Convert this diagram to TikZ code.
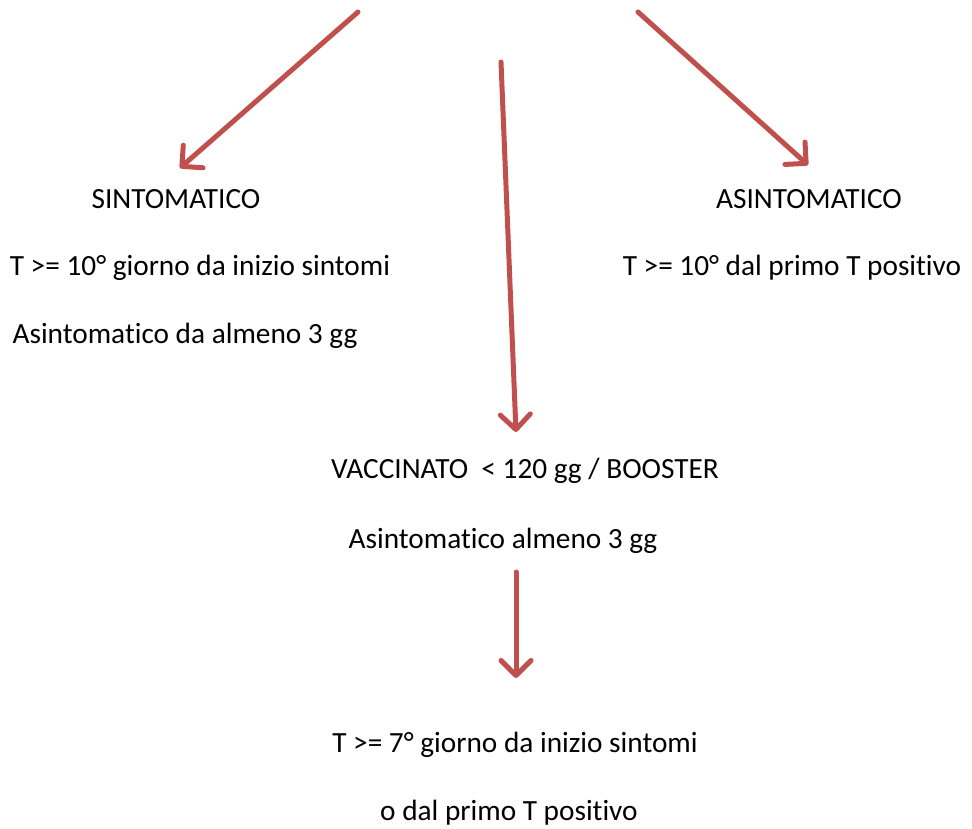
\documentclass[tikz,border=0pt]{standalone}
\usepackage{fontspec}
\setmainfont[Ligatures={NoCommon}]{Carlito}
\usetikzlibrary{arrows.meta}
\definecolor{arrred}{HTML}{C0504D}
\begin{document}
\begin{tikzpicture}[x=1pt,y=-1pt,
  lbl/.style={anchor=base,inner sep=0pt,font=\fontsize{29.3}{34}\selectfont},
  redarrow/.style={draw=arrred,line width=5pt,line cap=round,
    -{Straight Barb[length=15pt,width=30pt,line join=round,line cap=round]}}]
\useasboundingbox (0,0) rectangle (972,828);
\node[lbl] (sint) at (176,208) {SINTOMATICO};
\node[lbl] (sint1) at (200,275) {T >= 10° giorno da inizio sintomi};
\node[lbl] (sint2) at (185,343) {Asintomatico da almeno 3 gg};
\node[lbl] (asint) at (809,208) {ASINTOMATICO};
\node[lbl] (asint1) at (792,275) {T >= 10° dal primo T positivo};
\node[lbl] (vacc) at (525,478) {VACCINATO\ \ < 120 gg / BOOSTER};
\node[lbl] (vacc1) at (503,548) {Asintomatico almeno 3 gg};
\node[lbl] (fin1) at (515,752) {T >= 7° giorno da inizio sintomi};
\node[lbl] (fin2) at (509,820) {o dal primo T positivo};
\coordinate (s1) at (358,12);
\coordinate (e1) at (180,168);
\coordinate (s2) at (638,12);
\coordinate (e2) at (808,165);
\coordinate (s3) at (501,62);
\coordinate (e3) at (516,432);
\coordinate (s4) at (516,572);
\coordinate (e4) at (516,678);
\draw[redarrow] (s1) -- (e1);
\draw[redarrow] (s2) -- (e2);
\draw[redarrow] (s3) -- (e3);
\draw[redarrow] (s4) -- (e4);
\end{tikzpicture}
\end{document}
